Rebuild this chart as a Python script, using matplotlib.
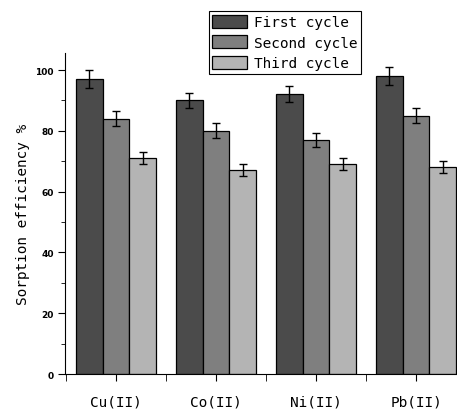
import numpy as np
import matplotlib
matplotlib.use("Agg")
import matplotlib.pyplot as plt
from matplotlib.ticker import MultipleLocator


# ─── Data ─────────────────────────────────────────────────────────────────────

metals  = ["Cu(II)", "Co(II)", "Ni(II)", "Pb(II)"]
cycles  = ["First cycle", "Second cycle", "Third cycle"]

first   = [97, 90, 92, 98]
second  = [84, 80, 77, 85]
third   = [71, 67, 69, 68]

err_first  = [3.0, 2.6, 2.6, 3.0]
err_second = [2.5, 2.5, 2.2, 2.5]
err_third  = [2.0, 2.0, 2.0, 2.0]


# ─── Figure ───────────────────────────────────────────────────────────────────

fig = plt.figure(figsize=(4.57, 4.14), dpi=100)
ax  = fig.add_axes([0.1422, 0.0942, 0.8775, 0.7754])

mono   = "DejaVu Sans Mono"
colors = ["#4b4b4b", "#7f7f7f", "#b4b4b4"]
width  = 0.267
x      = np.arange(1, len(metals) + 1)

series = [(first, err_first), (second, err_second), (third, err_third)]
for i, ((vals, errs), lab, col) in enumerate(zip(series, cycles, colors)):
    ax.bar(x + (i - 1) * width, vals, width, color=col, edgecolor="black",
           linewidth=0.9, label=lab, zorder=2,
           yerr=errs, capsize=3,
           error_kw=dict(ecolor="black", elinewidth=1.0, capthick=1.0))

ax.set_xlim(0.49, 4.5)
ax.set_ylim(0, 105.6)

# Only the left and bottom spines are drawn
ax.spines["top"].set_visible(False)
ax.spines["right"].set_visible(False)

ax.set_xticks(x)
ax.set_xticklabels(metals, fontfamily=mono, fontsize=10.4)
ax.xaxis.set_minor_locator(MultipleLocator(1.0, offset=0.5))
ax.yaxis.set_major_locator(MultipleLocator(20))
ax.yaxis.set_minor_locator(MultipleLocator(10))

ax.tick_params(axis="x", which="major", direction="out", length=5, pad=10)
ax.tick_params(axis="x", which="minor", direction="out", length=5)
ax.tick_params(axis="y", which="major", direction="out", length=5,
               labelsize=6.5, pad=3)
ax.tick_params(axis="y", which="minor", direction="out", length=3)
for t in ax.get_yticklabels():
    t.set_fontweight("bold")

ax.set_ylabel("Sorption efficiency %", fontfamily=mono, fontsize=10.4,
              labelpad=4)

leg = ax.legend(loc="upper left", bbox_to_anchor=(0.457, 0.971),
                bbox_transform=fig.transFigure, prop=dict(family=mono, size=10.4),
                frameon=True, fancybox=False, framealpha=1,
                edgecolor="black", handlelength=2.4, handleheight=1.0,
                handletextpad=0.5, labelspacing=0.42, borderpad=0.25,
                borderaxespad=0)
leg.get_frame().set_linewidth(0.8)

fig.savefig("out.png", dpi=100)
